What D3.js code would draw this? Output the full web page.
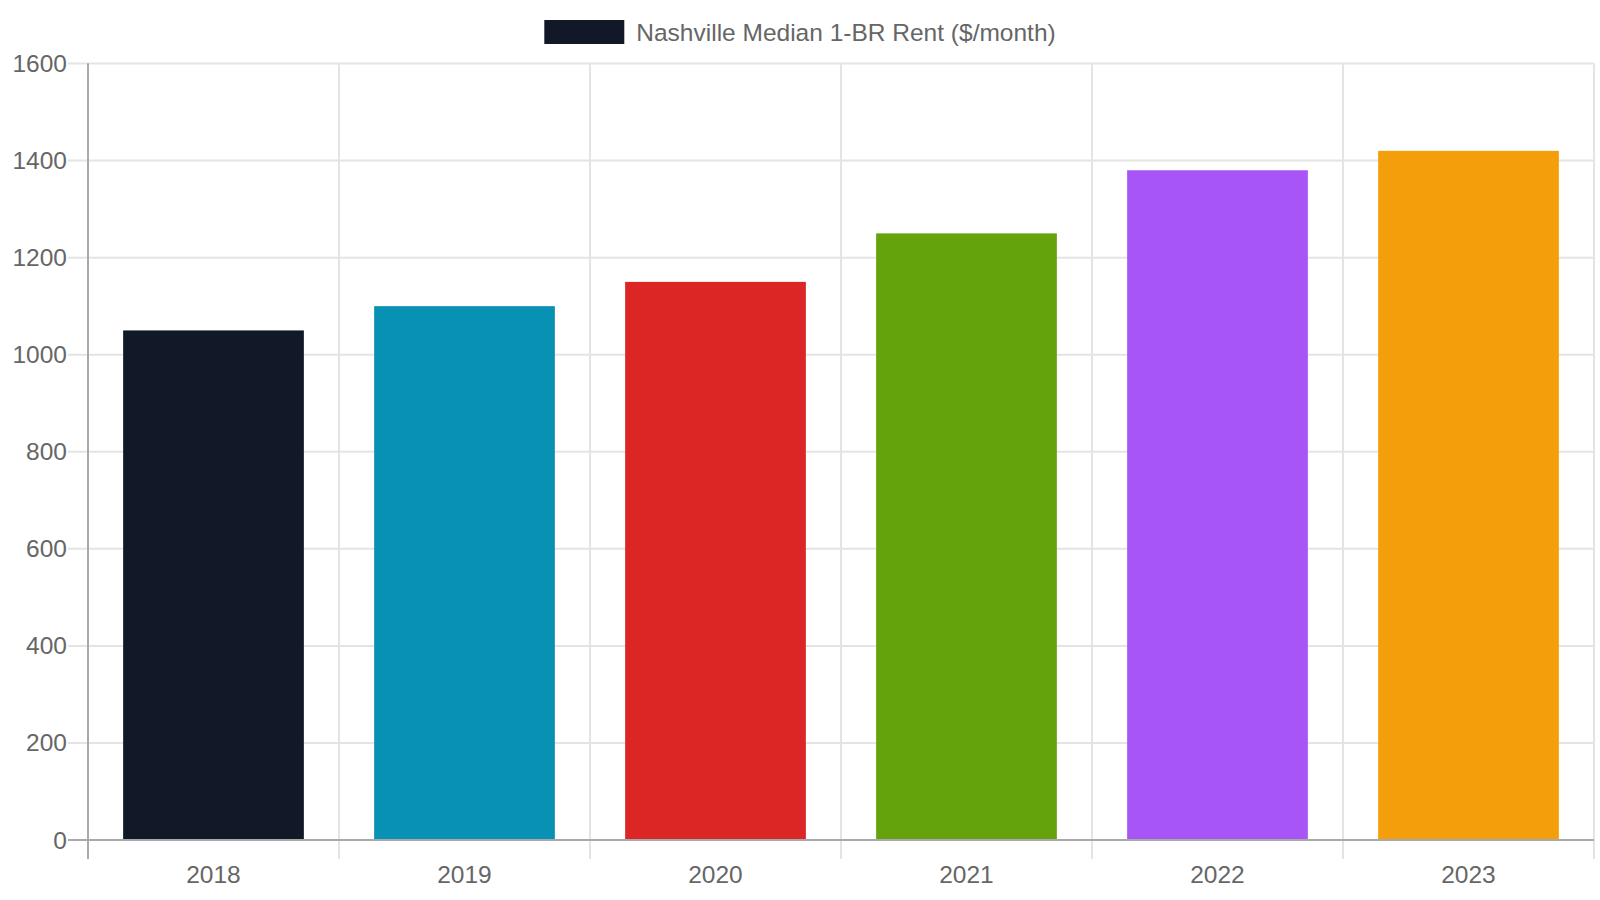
<!DOCTYPE html>
<html>
<head>
<meta charset="utf-8">
<script src="https://cdn.jsdelivr.net/npm/d3@7"></script>
<style>
  html, body { margin: 0; padding: 0; background: #fff; }
  svg { display: block; font-family: "Liberation Sans", Arial, Helvetica, sans-serif; }
</style>
</head>
<body>
<svg id="chart" width="1600" height="900"></svg>
<script>
const categories = ["2018", "2019", "2020", "2021", "2022", "2023"];
const rentValues = [1050, 1100, 1150, 1250, 1380, 1420];
const barColors = ["#111827", "#0891b2", "#dc2626", "#65a30d", "#a855f7", "#f59e0b"];
const yTicks = [0, 200, 400, 600, 800, 1000, 1200, 1400, 1600];
const seriesLabel = "Nashville Median 1-BR Rent ($/month)";

const svg = d3.select("#chart");
const W = 1600, H = 900;
const m = { left: 88, right: 1594, top: 63.5, bottom: 840 };
const textColor = "#666666";
const gridColor = "#e4e4e4";
const axisColor = "#a9a9a9";
const fs = 24.5;

const x = d3.scaleBand().domain(categories).range([m.left, m.right]).paddingInner(0).paddingOuter(0);
const y = d3.scaleLinear().domain([0, 1600]).range([m.bottom, m.top]);

// horizontal gridlines (with ticks extending left)
svg.append("g").selectAll("line").data(yTicks).join("line")
  .attr("x1", m.left - 20).attr("x2", m.right)
  .attr("y1", d => y(d)).attr("y2", d => y(d))
  .attr("stroke", d => d === 0 ? axisColor : gridColor)
  .attr("stroke-width", 2);

// vertical gridlines at category boundaries (ticks extend below)
const bounds = categories.map(c => x(c)).concat([m.right]);
svg.append("g").selectAll("line").data(bounds).join("line")
  .attr("x1", d => d).attr("x2", d => d)
  .attr("y1", m.top).attr("y2", m.bottom + 19)
  .attr("stroke", (d, i) => i === 0 ? axisColor : gridColor)
  .attr("stroke-width", 2);

// y tick labels
svg.append("g").selectAll("text").data(yTicks).join("text")
  .attr("x", 67).attr("y", d => y(d))
  .attr("text-anchor", "end").attr("dominant-baseline", "central")
  .attr("font-size", fs).attr("fill", textColor)
  .text(d => d);

// bars
const barW = x.bandwidth() * 0.72;
svg.append("g").selectAll("rect").data(categories).join("rect")
  .attr("x", d => x(d) + (x.bandwidth() - barW) / 2)
  .attr("width", barW)
  .attr("y", (d, i) => y(rentValues[i]))
  .attr("height", (d, i) => y(0) - y(rentValues[i]))
  .attr("fill", (d, i) => barColors[i]);

// axis lines redrawn over bars
svg.append("line")
  .attr("x1", m.left - 20).attr("x2", m.right)
  .attr("y1", y(0)).attr("y2", y(0))
  .attr("stroke", axisColor).attr("stroke-width", 2);
svg.append("line")
  .attr("x1", m.left).attr("x2", m.left)
  .attr("y1", m.top).attr("y2", m.bottom + 19)
  .attr("stroke", axisColor).attr("stroke-width", 2);

// x labels
svg.append("g").selectAll("text").data(categories).join("text")
  .attr("x", d => x(d) + x.bandwidth() / 2).attr("y", 874)
  .attr("text-anchor", "middle").attr("dominant-baseline", "central")
  .attr("font-size", fs).attr("fill", textColor)
  .text(d => d);

// legend
const lg = svg.append("g");
const lt = lg.append("text")
  .attr("y", 32).attr("dominant-baseline", "central")
  .attr("font-size", fs).attr("fill", textColor)
  .text(seriesLabel);
const tw = lt.node().getComputedTextLength();
const total = 80 + 12 + tw;
const lx = (W - total) / 2;
lg.insert("rect", "text")
  .attr("x", lx).attr("y", 20).attr("width", 80).attr("height", 24)
  .attr("fill", barColors[0]);
lt.attr("x", lx + 92);
</script>
</body>
</html>
